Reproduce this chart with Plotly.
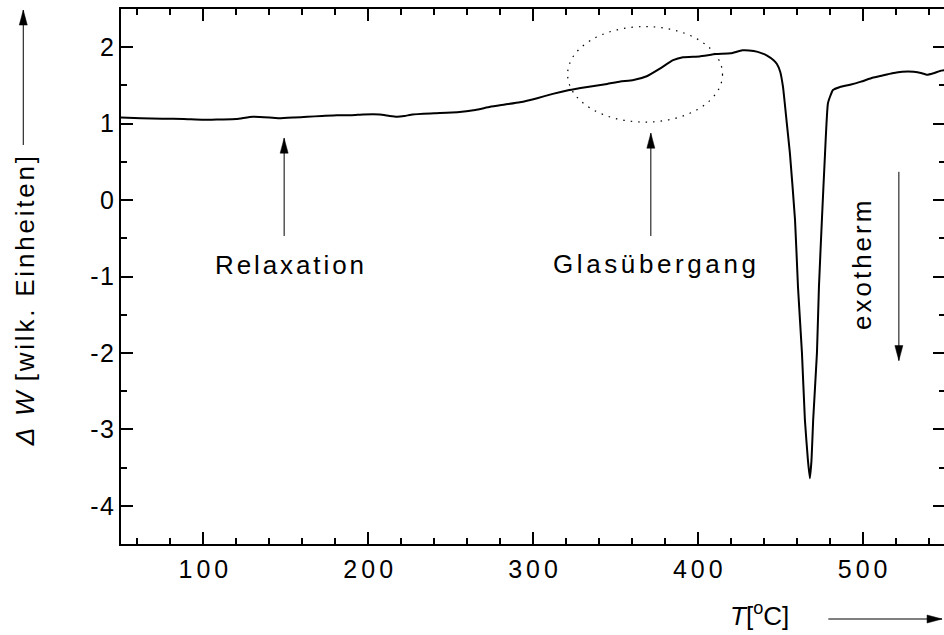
import plotly.graph_objects as go

# ---- data (DSC curve) ----
temperature = [50, 62, 75, 88, 100, 110, 120, 130, 140, 146, 155, 163, 172, 181, 190, 197,
               207, 213, 217.5, 222, 227, 240, 254, 265, 274, 283, 292, 302, 312, 322, 333,
               345, 353, 361, 369, 377, 385, 391, 401, 411, 420, 427, 434, 439, 442, 446,
               448, 450, 451.7, 453.8, 455.9, 459, 460.8, 463.2, 465, 466.8, 468, 469, 470,
               472.3, 473.5, 475.3, 477.2, 479, 482, 486.3, 492.4, 499, 506, 512, 518, 524,
               531, 536, 539, 543, 547, 550]
delta_w = [1.08, 1.07, 1.065, 1.06, 1.05, 1.055, 1.06, 1.09, 1.08, 1.07, 1.08, 1.09, 1.10,
           1.11, 1.11, 1.12, 1.12, 1.10, 1.09, 1.10, 1.12, 1.135, 1.15, 1.18, 1.22, 1.25,
           1.28, 1.33, 1.39, 1.44, 1.48, 1.52, 1.55, 1.57, 1.62, 1.72, 1.83, 1.87, 1.88,
           1.91, 1.92, 1.96, 1.95, 1.92, 1.89, 1.83, 1.78, 1.68, 1.48, 1.05, 0.61, -0.26,
           -1.14, -2.0, -2.88, -3.4, -3.64, -3.4, -2.88, -2.0, -1.14, -0.26, 0.61, 1.27,
           1.44, 1.48, 1.51, 1.55, 1.60, 1.63, 1.66, 1.68, 1.68, 1.66, 1.64, 1.66, 1.69, 1.70]

x_tick_vals = [100, 200, 300, 400, 500]
x_tick_text = ["100", "200", "300", "400", "500"]
y_tick_vals = [-4, -3, -2, -1, 0, 1, 2]
y_tick_text = ["-4", "-3", "-2", "-1", "0", "1", "2"]

# annotation anchors (data units)
relax_x, glas_x, exo_x = 149, 371.5, 522
ellipse_x = [321, 415]
ellipse_y = [1.02, 2.27]

FONT = "Liberation Sans, Arial, Helvetica, sans-serif"


def spaced(s, px):
    """letter-spaced text: spacing applied to all but the last character"""
    if len(s) < 2:
        return s
    return "<span style='letter-spacing:%gpx'>%s</span>%s" % (px, s[:-1], s[-1])


fig = go.Figure()
fig.add_trace(go.Scatter(x=temperature, y=delta_w, mode="lines",
                         line=dict(color="black", width=2, shape="spline", smoothing=0.4),
                         hoverinfo="skip", showlegend=False))

axis_common = dict(showline=True, linecolor="black", linewidth=2, mirror="ticks",
                   ticks="inside", ticklen=12, tickwidth=1.6, tickcolor="black",
                   showgrid=False, zeroline=False,
                   tickfont=dict(family=FONT, size=25, color="black"))

fig.update_xaxes(range=[50, 550], tickmode="array", tickvals=x_tick_vals,
                 ticktext=[spaced(t, 4) for t in x_tick_text],
                 minor=dict(tickmode="linear", tick0=0, dtick=20, ticks="inside",
                            ticklen=6, tickwidth=1.6, tickcolor="black"),
                 ticklabelstandoff=2, **axis_common)
fig.update_yaxes(range=[-4.5, 2.5], tickmode="array", tickvals=y_tick_vals,
                 ticktext=[spaced(t, 1.5) for t in y_tick_text],
                 minor=dict(tickmode="linear", tick0=0, dtick=0.5, ticks="inside",
                            ticklen=6, tickwidth=1.6, tickcolor="black"),
                 **axis_common)

ann_font = dict(family=FONT, size=26, color="black")
centered = dict(showarrow=False, font=ann_font, xanchor="center", yanchor="middle")
annotations = [
    dict(text=spaced("Relaxation", 2.9), x=152.5, y=-0.85, xref="x", yref="y", **centered),
    dict(text=spaced("Glasübergang", 3.6), x=374, y=-0.84, xref="x", yref="y", **centered),
    dict(text=spaced("exotherm", 3), x=499.6, y=-0.85, xref="x", yref="y",
         textangle=-90, **centered),
    dict(text="<i>T</i>[<sup>o</sup>C]", x=0.7748, y=-0.131, xref="paper", yref="paper",
         **centered),
    dict(text="<i>" + spaced("Δ W", 2.8) + "</i>" + spaced(" [wilk. Einheiten]", 2.8),
         x=-0.1162, y=0.4542, xref="paper", yref="paper", textangle=-90, **centered),
]

shapes = []
line_style = dict(color="black", width=1)


def add_arrow(xref, yref, x0, y0, x1, y1, direction):
    shapes.append(dict(type="line", xref=xref, yref=yref, x0=x0, y0=y0, x1=x1, y1=y1,
                       line=line_style, layer="above"))
    heads = {
        "up": "M0,0 L-4,-15 L4,-15 Z",
        "down": "M0,0 L-4,15 L4,15 Z",
        "right": "M0,0 L-15,-4 L-15,4 Z",
    }
    shapes.append(dict(type="path", xref=xref, yref=yref, xsizemode="pixel",
                       ysizemode="pixel", xanchor=x1, yanchor=y1, path=heads[direction],
                       fillcolor="black", line=dict(color="black", width=0.5),
                       layer="above"))


add_arrow("x", "y", relax_x, -0.47, relax_x, 0.81, "up")
add_arrow("x", "y", glas_x, -0.47, glas_x, 0.875, "up")
add_arrow("x", "y", exo_x, 0.37, exo_x, -2.1, "down")
add_arrow("paper", "paper", -0.1186, 0.7458, -0.1186, 0.998, "up")
add_arrow("paper", "paper", 0.8584, -0.1402, 0.9964, -0.1402, "right")

shapes.append(dict(type="circle", xref="x", yref="y", x0=ellipse_x[0], x1=ellipse_x[1],
                   y0=ellipse_y[0], y1=ellipse_y[1],
                   line=dict(color="black", width=1.2, dash="1.5px,6px")))

fig.update_layout(width=947, height=635, autosize=False,
                  margin=dict(l=121, r=0, t=9, b=91),
                  paper_bgcolor="white", plot_bgcolor="white",
                  font=dict(family=FONT, color="black"),
                  annotations=annotations, shapes=shapes, showlegend=False)

fig.write_html("out.html", config={"displayModeBar": False},
               post_script="document.body.style.margin='0';"
                           "document.body.style.overflow='hidden';")
